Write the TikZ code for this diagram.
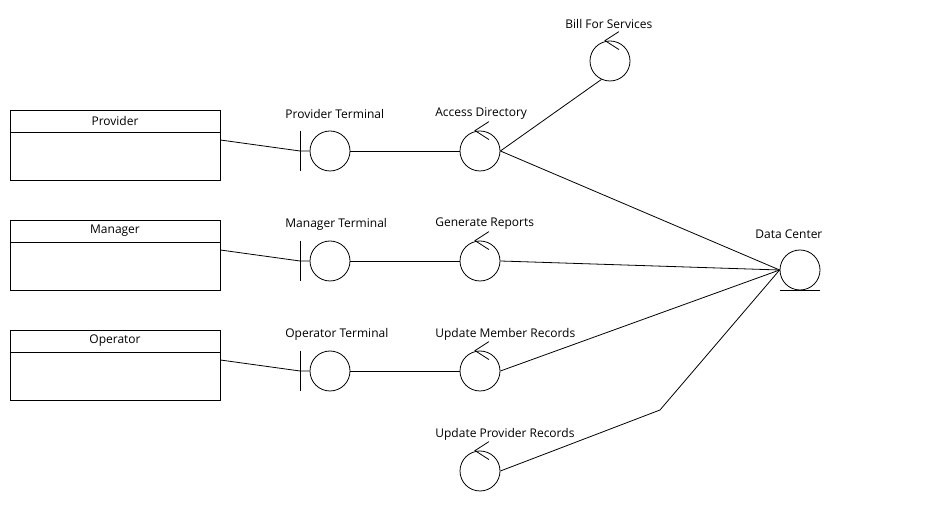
\documentclass[tikz,border=0pt]{standalone}
\usepackage{fontspec}
\setmainfont{Open Sans}
\usetikzlibrary{positioning}

\tikzset{
    entitybox/.style={draw=black, fill=white, minimum width=210pt, minimum height=70pt, inner sep=0pt},
    entityhead/.style={minimum width=210pt, minimum height=22pt, inner sep=0pt, font=\fontsize{12}{14}\selectfont},
    uicircle/.style={circle, draw=black, fill=white, minimum size=40pt, inner sep=0pt},
    uilabel/.style={anchor=west, inner sep=0pt, font=\fontsize{12}{14}\selectfont},
}

\begin{document}
\begin{tikzpicture}[x=1pt, y=-1pt, line width=0.8pt]
            \useasboundingbox (0,0) rectangle (930,510);
            % actors
            \node[entitybox] (provider) at (115,145) {};
            \node[entityhead, below=0pt of provider.north] (providerhead) {Provider};
            \draw (providerhead.south west) -- (providerhead.south east);
            \node[entitybox] (manager) at (115,255) {};
            \node[entityhead, below=0pt of manager.north] (managerhead) {Manager};
            \draw (managerhead.south west) -- (managerhead.south east);
            \node[entitybox] (operator) at (115,365) {};
            \node[entityhead, below=0pt of operator.north] (operatorhead) {Operator};
            \draw (operatorhead.south west) -- (operatorhead.south east);

            % boundaries
            \node[uicircle] (provterm) at (330,151) {};
            \node[uicircle] (mgrterm) at (330,261) {};
            \node[uicircle] (opterm) at (330,371) {};
            \coordinate (provbar) at (300,151);
            \coordinate (mgrbar) at (300,261);
            \coordinate (opbar) at (300,371);
            \foreach \b in {provbar,mgrbar,opbar}
                \draw ([yshift=20pt]\b) -- ([yshift=-20pt]\b);
            \node[uilabel] (provtermlabel) at (285,114) {Provider Terminal};
            \node[uilabel] (mgrtermlabel) at (285,224) {Manager Terminal};
            \node[uilabel] (optermlabel) at (285,334) {Operator Terminal};

            % controls
            \node[uicircle] (billsvc) at (610,61) {};
            \node[uicircle] (accessdir) at (480,151) {};
            \node[uicircle] (genrep) at (480,261) {};
            \node[uicircle] (updmem) at (480,371) {};
            \node[uicircle] (updprov) at (480,471) {};
            \foreach \c in {billsvc,accessdir,genrep,updmem,updprov}
                \draw ([xshift=9pt,yshift=9pt]\c.north) -- ([xshift=-5pt]\c.north) -- ([xshift=9pt,yshift=-9pt]\c.north);
            \node[uilabel] (billsvclabel) at (565,24) {Bill For Services};
            \node[uilabel] (accessdirlabel) at (435,114) {Access Directory};
            \node[uilabel] (genreplabel) at (435,224) {Generate Reports};
            \node[uilabel] (updmemlabel) at (435,334) {Update Member Records};
            \node[uilabel] (updprovlabel) at (435,434) {Update Provider Records};

            % entity
            \node[uicircle] (datactr) at (800,270) {};
            \draw ([xshift=-20pt]datactr.south) -- ([xshift=20pt]datactr.south);
            \node[uilabel] (datactrlabel) at (755,234) {Data Center};

            % links
            \draw ([yshift=5pt]provider.east) -- (provbar) -- (provterm);
            \draw ([yshift=5pt]manager.east) -- (mgrbar) -- (mgrterm);
            \draw ([yshift=5pt]operator.east) -- (opbar) -- (opterm);
            \draw (provterm) -- (accessdir);
            \draw (mgrterm) -- (genrep);
            \draw (opterm) -- (updmem);
            \draw (accessdir.east) -- (billsvc.-115);
            \draw (accessdir.east) -- (datactr.west);
            \draw (genrep.east) -- (datactr.west);
            \draw (updmem.east) -- (datactr.west);
            \coordinate (provbend) at (660,410);
            \draw (updprov.east) -- (provbend) -- (datactr.west);
        \end{tikzpicture}
\end{document}
